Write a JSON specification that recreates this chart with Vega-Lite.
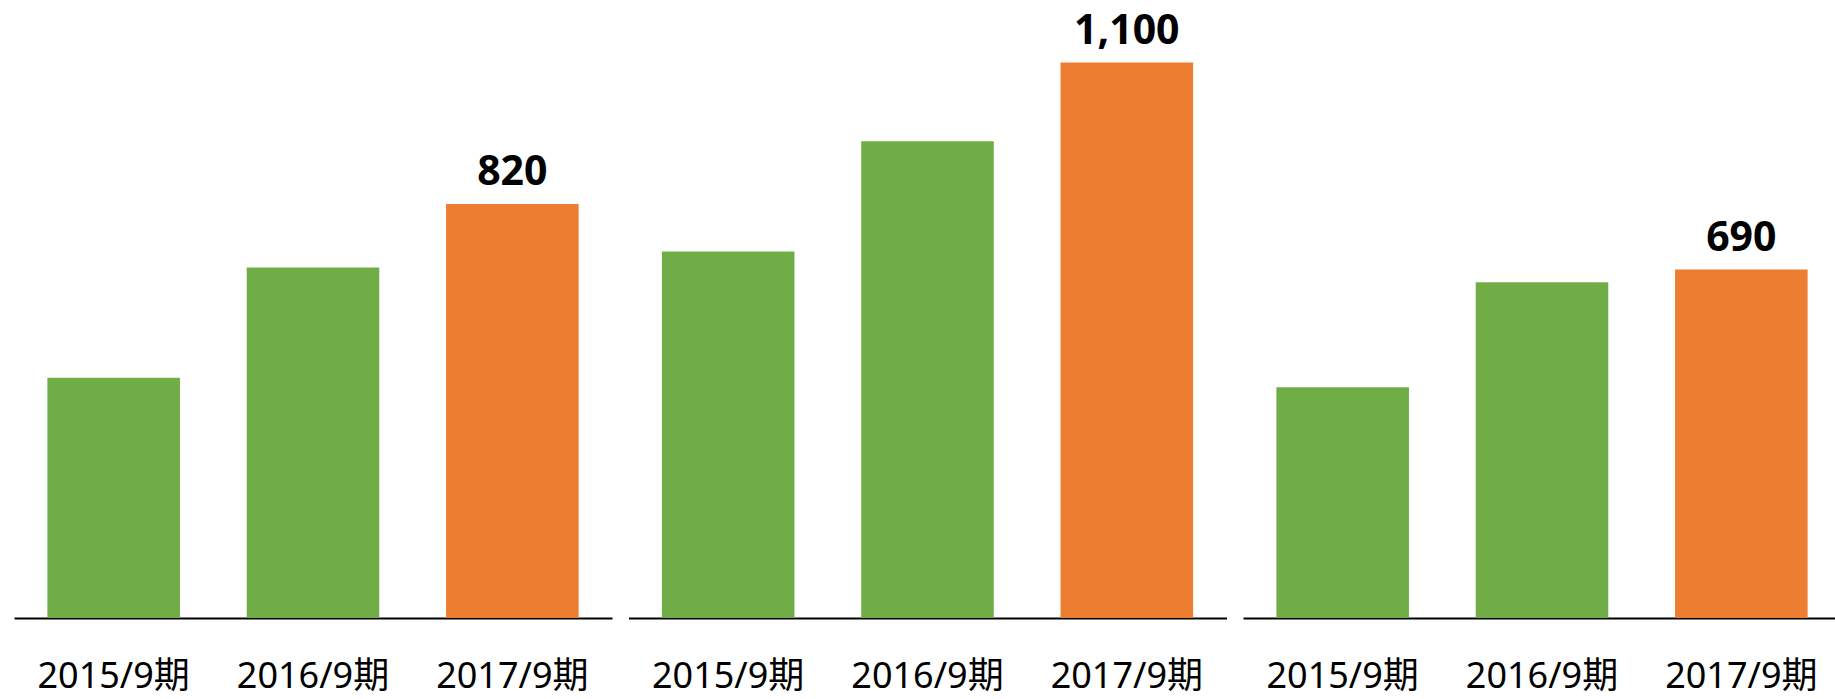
{
  "$schema": "https://vega.github.io/schema/vega-lite/v6.json",
  "padding": {"left": 14, "top": 0, "right": -6, "bottom": 4},
  "background": "white",
  "data": {
    "values": [
      {"panel": "A", "period": "2015/9期", "value": 476},
      {"panel": "A", "period": "2016/9期", "value": 694},
      {"panel": "A", "period": "2017/9期", "value": 820},
      {"panel": "B", "period": "2015/9期", "value": 726},
      {"panel": "B", "period": "2016/9期", "value": 944},
      {"panel": "B", "period": "2017/9期", "value": 1100},
      {"panel": "C", "period": "2015/9期", "value": 457},
      {"panel": "C", "period": "2016/9期", "value": 665},
      {"panel": "C", "period": "2017/9期", "value": 690}
    ]
  },
  "facet": {
    "column": {
      "field": "panel",
      "type": "nominal",
      "header": {"labels": false, "title": null, "labelPadding": 0, "titlePadding": 0}
    }
  },
  "spacing": 16.5,
  "spec": {
    "width": 598,
    "height": 618,
    "encoding": {
      "x": {
        "field": "period",
        "type": "nominal",
        "sort": null,
        "scale": {"paddingInner": 0.335, "paddingOuter": 0.1675},
        "axis": {
          "title": null,
          "labelAngle": 0,
          "ticks": false,
          "tickSize": 0,
          "labelPadding": 41,
          "labelFont": "Noto Sans, Noto Sans CJK JP",
          "labelFontSize": 36,
          "labelColor": "#000000",
          "domainColor": "#000000",
          "domainWidth": 2,
          "grid": false
        }
      },
      "y": {
        "field": "value",
        "type": "quantitative",
        "scale": {"domain": [0, 1224], "nice": false, "zero": true},
        "axis": null
      }
    },
    "layer": [
      {
        "mark": {"type": "bar"},
        "encoding": {
          "color": {
            "field": "period",
            "type": "nominal",
            "scale": {
              "domain": ["2015/9期", "2016/9期", "2017/9期"],
              "range": ["#70AD47", "#70AD47", "#ED7D31"]
            },
            "legend": null
          }
        }
      },
      {
        "transform": [{"filter": "datum.period === '2017/9期'"}],
        "mark": {
          "type": "text",
          "baseline": "alphabetic",
          "align": "center",
          "dy": -19,
          "font": "Noto Sans",
          "fontSize": 41,
          "fontWeight": "bold",
          "color": "#000000"
        },
        "encoding": {
          "text": {"field": "value", "type": "quantitative", "format": ","}
        }
      }
    ]
  },
  "config": {
    "view": {"stroke": null},
    "axis": {"grid": false}
  }
}
